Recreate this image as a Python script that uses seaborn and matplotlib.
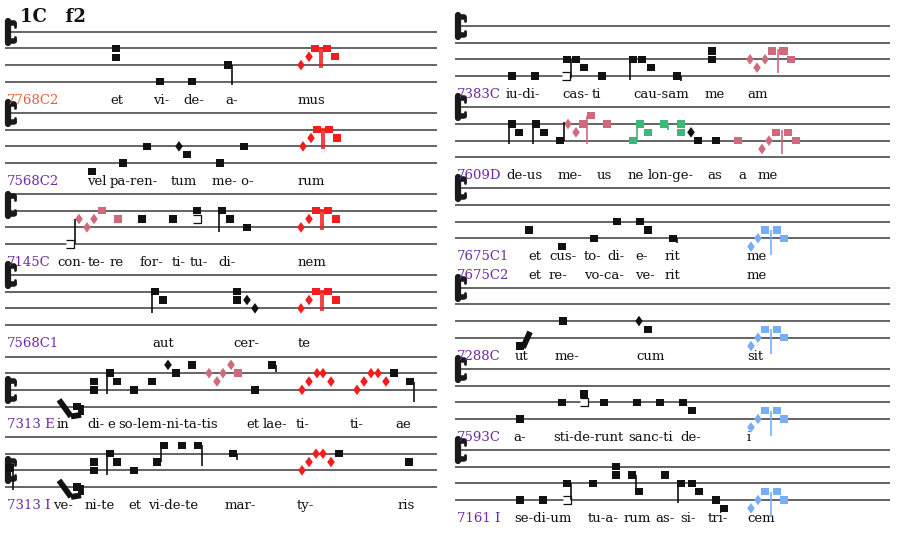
import matplotlib
matplotlib.use("Agg")
import matplotlib.pyplot as plt
import seaborn as sns
import pandas as pd

# ---------------- data ----------------
TITLE = "1C   f2"
STEP = 8.33  # half of a staff-line gap (pixels)
PALETTE = {"k": "#111111", "r": "#f41c1c", "p": "#cf6a7c", "g": "#3db87a", "b": "#78aef8"}
LABEL_PURPLE = "#6f2aa3"
LABEL_SALMON = "#e0603f"

STAFF_IDS = ["L1", "L2", "L3", "L4", "L5", "L6", "R1", "R2", "R3", "R4", "R5", "R6"]
STAFF_BASE = [81.7, 163.0, 244.0, 325.0, 406.5, 487.0, 76.0, 157.3, 238.3, 337.7, 419.0, 500.0]
STAFF_SPAN = [(5, 437)] * 6 + [(455, 890)] * 6
CLEF_PITCH = [6, 6, 4.7, 6, 2, 2, 6, 6, 6, 6, 6, 6]

LABELS = [["7768C2"], ["7568C2"], ["7145C"], ["7568C1"], ["7313 E"], ["7313 I"],
          ["7383C"], ["7609D"], ["7675C1", "7675C2"], ["7288C"], ["7593C"], ["7161 I"]]
LABEL_COLOR = ["salmon"] + ["purple"] * 11

LYR_L1 = [(110, "et"), (153, "vi-"), (183, "de-"), (225, "a-"), (298, "mus")]
LYR_L2 = [(87, "vel"), (110, "pa-ren-"), (171, "tum"), (212, "me- o-"), (298, "rum")]
LYR_L3 = [(57, "con-"), (88, "te-"), (110, "re"), (140, "for-"), (172, "ti-"), (190, "tu-"), (218, "di-"), (298, "nem")]
LYR_L4 = [(152, "aut"), (233, "cer-"), (298, "te")]
LYR_L5 = [(57, "in"), (87, "di-"), (107, "e"), (118, "so-lem-ni-ta-tis"), (246, "et"), (263, "lae-"),
          (296, "ti-"), (350, "ti-"), (395, "ae")]
LYR_L6 = [(53, "ve-"), (85, "ni-te"), (128, "et"), (148, "vi-de-te"), (225, "mar-"), (297, "ty-"), (398, "ris")]
LYR_R1 = [(506, "iu-di-"), (562, "cas-"), (592, "ti"), (633, "cau-sam"), (705, "me"), (747, "am")]
LYR_R2 = [(506, "de-us"), (558, "me-"), (597, "us"), (628, "ne"), (648, "lon-ge-"), (707, "as"), (738, "a"), (758, "me")]
LYR_R3A = [(528, "et"), (549, "cus-"), (584, "to-"), (607, "di-"), (635, "e-"), (665, "rit"), (747, "me")]
LYR_R3B = [(528, "et"), (549, "re-"), (584, "vo-ca-"), (635, "ve-"), (665, "rit"), (747, "me")]
LYR_R4 = [(515, "ut"), (555, "me-"), (636, "cum"), (747, "sit")]
LYR_R5 = [(513, "a-"), (553, "sti-de-runt"), (628, "sanc-ti"), (680, "de-"), (747, "i")]
LYR_R6 = [(514, "se-di-um"), (588, "tu-a-"), (624, "rum"), (655, "as-"), (680, "si-"), (708, "tri-"), (747, "cem")]
LYRICS = [[LYR_L1], [LYR_L2], [LYR_L3], [LYR_L4], [LYR_L5], [LYR_L6],
          [LYR_R1], [LYR_R2], [LYR_R3A, LYR_R3B], [LYR_R4], [LYR_R5], [LYR_R6]]

# notes: (column x, pitch step above bottom line, shape, colour)
# shapes: s = square punctum, D = diamond, h = hollow square
NOTES_L1 = [(116, 4, "s", "k"), (116, 2.9, "s", "k"), (160, 0, "s", "k"), (192, 0, "s", "k"), (228, 2, "s", "k"),
            (301, 2, "D", "r"), (309, 3, "D", "r"), (315, 4, "s", "r"), (327, 4, "s", "r"), (335, 3, "s", "r")]
NOTES_L2 = [(92, -1, "s", "k"), (123, 0, "s", "k"), (147, 2, "s", "k"), (179, 2, "D", "k"), (187, 1, "s", "k"),
            (220, 0, "s", "k"), (244, 2, "s", "k"),
            (303, 2, "D", "r"), (311, 3, "D", "r"), (317, 4, "s", "r"), (329, 4, "s", "r"), (337, 3, "s", "r")]
NOTES_L3 = [(70, 0, "h", "k"), (79, 3, "D", "p"), (87, 2, "D", "p"), (94, 3, "D", "p"), (102, 4, "s", "p"),
            (118, 3, "s", "p"), (142, 3, "s", "k"), (173, 3, "s", "k"), (197, 4, "s", "k"), (197, 3, "h", "k"),
            (222, 4, "s", "k"), (230, 3, "s", "k"), (247, 2, "s", "k"),
            (301, 2, "D", "r"), (309, 3, "D", "r"), (316, 4, "s", "r"), (328, 4, "s", "r"), (336, 3, "s", "r")]
NOTES_L4 = [(155, 4, "s", "k"), (163, 3, "s", "k"), (237, 4, "s", "k"), (237, 3, "s", "k"), (247, 3, "D", "k"),
            (255, 2, "D", "k"),
            (301, 2, "D", "r"), (309, 3, "D", "r"), (316, 4, "s", "r"), (328, 4, "s", "r"), (336, 3, "s", "r")]
NOTES_L5 = [(77, 0, "s", "k"), (94, 3, "s", "k"), (94, 2, "s", "k"), (110, 4, "s", "k"), (117, 3, "s", "k"),
            (134, 2, "s", "k"), (152, 3, "s", "k"), (168, 5, "D", "k"), (176, 4, "s", "k"), (192, 5, "s", "k"),
            (209, 4, "D", "p"), (217, 3, "D", "p"), (223, 4, "D", "p"), (231, 5, "D", "p"), (238, 4, "s", "p"),
            (255, 2, "s", "k"), (272, 5, "s", "k"),
            (302, 2, "D", "r"), (309, 3, "D", "r"), (317, 4, "D", "r"), (323, 4, "D", "r"), (331, 3, "D", "r"),
            (357, 2, "D", "r"), (364, 3, "D", "r"), (371, 4, "D", "r"), (378, 4, "D", "r"), (386, 3, "D", "r"),
            (394, 4, "s", "k"), (410, 3, "s", "k")]
NOTES_L6 = [(10, 2.3, "s", "k"), (77, 0, "s", "k"), (94, 3, "s", "k"), (94, 2, "s", "k"), (110, 4, "s", "k"),
            (117, 3, "s", "k"), (134, 2, "s", "k"), (157, 3, "s", "k"), (164, 5, "s", "k"), (182, 5, "s", "k"),
            (198, 5, "s", "k"), (233, 4, "s", "k"),
            (302, 2, "D", "r"), (309, 3, "D", "r"), (316, 4, "D", "r"), (323, 4, "D", "r"), (331, 3, "D", "r"),
            (339, 4, "s", "k"), (409, 3, "s", "k")]
NOTES_R1 = [(512, 0, "s", "k"), (535, 0, "s", "k"), (566, 0, "h", "k"), (567, 2, "s", "k"), (576, 2, "s", "k"),
            (584, 1, "s", "k"), (602, 0, "s", "k"), (633, 2, "s", "k"), (642, 2, "s", "k"), (651, 1, "s", "k"),
            (677, 0, "s", "k"), (712, 3, "s", "k"), (712, 2, "s", "k"),
            (750, 2, "D", "p"), (757, 1, "D", "p"), (765, 2, "D", "p"), (772, 3, "s", "p"), (783.5, 3, "s", "p"),
            (791, 2, "s", "p")]
NOTES_R2 = [(512, 4, "s", "k"), (519, 3, "s", "k"), (536, 4, "s", "k"), (544, 3, "s", "k"), (560, 2, "s", "k"),
            (568, 4, "D", "p"), (576, 3, "D", "p"), (583, 4, "s", "p"), (591, 5, "s", "p"), (607, 4, "s", "p"),
            (633, 2, "s", "g"), (640, 4, "s", "g"), (648, 3, "s", "g"), (664, 4, "s", "g"), (681, 4, "s", "g"),
            (681, 3, "s", "g"),
            (691, 3, "D", "k"), (698, 2, "s", "k"), (716, 2, "s", "k"),
            (738, 2, "s", "p"), (762, 1, "D", "p"), (769, 2, "D", "p"), (776, 3, "s", "p"), (788, 3, "s", "p"),
            (796, 2, "s", "p")]
BLUE = [(751, -1, "D", "b"), (758, 0, "D", "b"), (765, 1, "s", "b"), (777, 1, "s", "b"), (784, 0, "s", "b")]
NOTES_R3 = [(529, 1, "s", "k"), (562, -1, "s", "k"), (594, 0, "s", "k"), (617, 2, "s", "k"), (640, 2, "s", "k"),
            (648, 1, "s", "k"), (673, 0, "s", "k")] + BLUE
NOTES_R4 = [(520, -1, "s", "k"), (563, 2, "s", "k"), (639, 2, "D", "k"), (648, 1, "s", "k")] + BLUE
NOTES_R5 = [(520, 0, "s", "k"), (562, 2, "s", "k"), (584, 3, "s", "k"), (584, 2, "h", "k"), (604, 2, "s", "k"),
            (637, 2, "s", "k"), (660, 2, "s", "k"), (683, 2, "s", "k"), (692, 1, "s", "k")] + BLUE
NOTES_R6 = [(520, 0, "s", "k"), (543, 0, "s", "k"), (567, 2, "s", "k"), (567, 0, "h", "k"), (593, 2, "s", "k"),
            (616, 4, "s", "k"), (616, 3, "s", "k"), (632, 3, "s", "k"), (639, 1, "s", "k"), (665, 3, "s", "k"),
            (681, 2, "s", "k"), (692, 2, "s", "k"), (699, 1, "s", "k"), (716, 0, "s", "k"), (724, -1, "s", "k")] + BLUE
NOTES = [NOTES_L1, NOTES_L2, NOTES_L3, NOTES_L4, NOTES_L5, NOTES_L6,
         NOTES_R1, NOTES_R2, NOTES_R3, NOTES_R4, NOTES_R5, NOTES_R6]

# stems: (x, pitch from, pitch to, colour)
BLUE_STEM = [(771, 1, -2, "b")]
STEMS = [
    [(232, 2, -0.4, "k"), (319.8, 4.2, 1.7, "r"), (322.2, 4.2, 1.7, "r")],
    [(321.8, 4.2, 1.7, "r"), (324.2, 4.2, 1.7, "r")],
    [(75, 0, 3, "k"), (218.5, 4, 1.4, "k"), (320.8, 4.2, 1.7, "r"), (323.2, 4.2, 1.7, "r")],
    [(151.5, 4, 1.5, "k"), (320.8, 4.2, 1.7, "r"), (323.2, 4.2, 1.7, "r")],
    [(106.5, 4, 1.5, "k"), (275.5, 5, 4.1, "k"), (413.5, 3, 0.5, "k")],
    [(12.5, 2.3, -0.4, "k"), (106.5, 4, 1.5, "k"), (160.5, 3, 5, "k"), (201.5, 5, 2.5, "k"), (236.5, 4, 3.3, "k")],
    [(570.5, 2, -0.3, "k"), (630, 2, -0.5, "k"), (680.5, 0, -0.6, "k"), (778.3, 3.3, 0.4, "p")],
    [(508.5, 4, 1.6, "k"), (532.5, 4, 1.6, "k"), (563.5, 2, 4.2, "k"), (587, 5, 1.6, "p"), (636.5, 2, 4, "g"),
     (667.5, 4, 3.3, "g"), (782.3, 3.3, 0.4, "p")],
    [(676.5, 0, -0.6, "k")] + BLUE_STEM,
    [] + BLUE_STEM,
    [] + BLUE_STEM,
    [(570.5, 2, 0, "k"), (635.5, 3, 0.8, "k"), (677.5, 2, -0.4, "k")] + BLUE_STEM,
]

# heavy ligature strokes: (x1, p1, x2, p2)
LIGS = [[], [], [], [],
        [(59, 0.8, 71, -1.2), (71, -1.2, 81, -1.0), (81, -1.0, 81, 0.2)],
        [(59, 0.8, 71, -1.2), (71, -1.2, 81, -1.0), (81, -1.0, 81, 0.2)],
        [], [], [], [(523, -1.2, 530, 0.7)], [], []]

# ---------------- drawing ----------------
sns.set_theme(style="white")
plt.rcParams["font.family"] = ["DejaVu Serif"]

fig = plt.figure(figsize=(9, 5.33), dpi=100)
ax = fig.add_axes([0, 0, 1, 1])

rows = []
for sid, base, notes in zip(STAFF_IDS, STAFF_BASE, NOTES):
    for x, p, shape, col in notes:
        rows.append({"staff": sid, "x": x, "y": base - p * STEP, "shape": shape, "col": col})
df = pd.DataFrame(rows)

# staff lines
for base, (x0, x1) in zip(STAFF_BASE, STAFF_SPAN):
    for k in range(4):
        ax.hlines(base - 2 * k * STEP, x0, x1, color="#3a3a3a", lw=1.1, zorder=1)

# stems and ligatures
for base, stems in zip(STAFF_BASE, STEMS):
    for x, p1, p2, col in stems:
        ax.plot([x, x], [base - p1 * STEP, base - p2 * STEP], color=PALETTE[col], lw=1.2, zorder=5,
                solid_capstyle="butt")
for base, ligs in zip(STAFF_BASE, LIGS):
    for x1, p1, x2, p2 in ligs:
        ax.plot([x1, x2], [base - p1 * STEP, base - p2 * STEP], color=PALETTE["k"], lw=4.2, zorder=2,
                solid_capstyle="butt")

# clefs
for base, (x0, _), cp in zip(STAFF_BASE, STAFF_SPAN, CLEF_PITCH):
    c = base - cp * STEP
    cx = x0 + 3
    ax.plot([cx, cx], [c - 11, c + 11], color="k", lw=4.5, solid_capstyle="round", zorder=3)
    ax.plot([cx, cx + 6], [c - 9, c - 9], color="k", lw=4, solid_capstyle="round", zorder=3)
    ax.plot([cx, cx + 6], [c + 9, c + 9], color="k", lw=4, solid_capstyle="round", zorder=3)
    ax.plot([cx + 6.5, cx + 6.5], [c - 9, c - 5], color="k", lw=2, zorder=3)
    ax.plot([cx + 6.5, cx + 6.5], [c + 9, c + 5], color="k", lw=2, zorder=3)

sq_marker = [(-1, -0.9), (1, -0.9), (1, 0.9), (-1, 0.9)]
dia_marker = [(0, -1.25), (0.9, 0), (0, 1.25), (-0.9, 0)]

d_s = df[df["shape"] == "s"]
sns.scatterplot(data=d_s, x="x", y="y", hue="col", palette=PALETTE, marker=sq_marker, s=36,
                linewidth=0, legend=False, ax=ax, zorder=4)
d_d = df[df["shape"] == "D"]
sns.scatterplot(data=d_d, x="x", y="y", hue="col", palette=PALETTE, marker=dia_marker, s=58,
                linewidth=0, legend=False, ax=ax, zorder=4)
d_h = df[df["shape"] == "h"]
sns.scatterplot(data=d_h, x="x", y="y", marker=sq_marker, s=32, facecolor="white",
                edgecolor="#111111", linewidth=0.9, legend=False, ax=ax, zorder=4)

# labels and lyrics
for base, (x0, _), labels, lcol, lyr_lines in zip(STAFF_BASE, STAFF_SPAN, LABELS, LABEL_COLOR, LYRICS):
    colr = LABEL_SALMON if lcol == "salmon" else LABEL_PURPLE
    for i, lab in enumerate(labels):
        ax.text(x0 + 2, base + 18.5 + i * 18.5, lab, color=colr, fontsize=9.5, va="center", ha="left")
    for i, lyr in enumerate(lyr_lines):
        for x, t in lyr:
            ax.text(x, base + 18.5 + i * 18.5, t, color="#111111", fontsize=9.5, va="center", ha="left")

ax.text(20, 17, TITLE, fontsize=13, fontweight="bold", va="center", ha="left", color="#111111")

ax.set_xlim(0, 900)
ax.set_ylim(533, 0)
ax.axis("off")
fig.savefig("out.png", dpi=100, facecolor="white")
